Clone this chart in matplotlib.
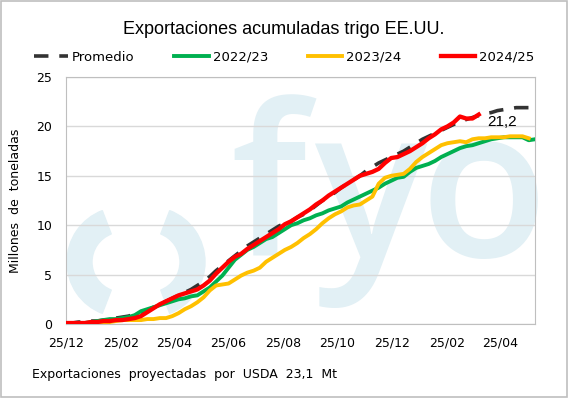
import matplotlib.pyplot as plt
from matplotlib.patches import Wedge
import numpy as np

# semanas desde el 25/12 (dias = 7 * semana)
promedio = [0.1, 0.1, 0.2, 0.2, 0.3, 0.3, 0.4, 0.5, 0.6, 0.7, 0.8, 1.0, 1.2, 1.4, 1.7, 2.0,
            2.3, 2.6, 2.9, 3.2, 3.5, 3.9, 4.3, 4.8, 5.4, 5.9, 6.4, 6.9, 7.4, 7.9, 8.3, 8.7,
            9.1, 9.5, 9.9, 10.2, 10.4, 10.8, 11.1, 11.5, 12.0, 12.5, 12.9, 13.3, 13.8, 14.2,
            14.6, 15.0, 15.5, 15.9, 16.3, 16.6, 16.9, 17.2, 17.5, 17.9, 18.3, 18.7, 19.0,
            19.3, 19.6, 19.9, 20.2, 20.5, 20.7, 20.9, 21.1, 21.3, 21.4, 21.6, 21.7, 21.8,
            21.9, 21.9, 21.9, 21.8]
c2022 = [0.1, 0.1, 0.1, 0.1, 0.2, 0.3, 0.4, 0.5, 0.5, 0.6, 0.7, 0.9, 1.3, 1.5, 1.7, 1.9,
         2.1, 2.3, 2.5, 2.6, 2.8, 2.9, 3.3, 3.7, 4.3, 4.9, 5.7, 6.5, 7.0, 7.5, 7.8, 8.2,
         8.6, 8.8, 9.2, 9.6, 10.0, 10.2, 10.5, 10.7, 11.0, 11.2, 11.5, 11.7, 11.9, 12.3,
         12.6, 12.9, 13.2, 13.5, 13.8, 14.2, 14.5, 14.8, 14.9, 15.4, 15.8, 16.0, 16.2,
         16.5, 16.9, 17.2, 17.5, 17.8, 18.0, 18.1, 18.3, 18.5, 18.7, 18.8, 18.9, 18.9,
         18.9, 18.9, 18.6, 18.7]
c2023 = [0.0, 0.0, 0.0, 0.1, 0.1, 0.1, 0.2, 0.2, 0.3, 0.4, 0.4, 0.4, 0.4, 0.5, 0.5, 0.6,
         0.6, 0.8, 1.1, 1.5, 1.8, 2.2, 2.7, 3.4, 3.9, 4.0, 4.1, 4.5, 4.9, 5.2, 5.4, 5.7,
         6.3, 6.7, 7.1, 7.5, 7.8, 8.2, 8.7, 9.1, 9.6, 10.2, 10.7, 11.1, 11.4, 11.8, 12.0,
         12.1, 12.5, 12.9, 14.2, 14.8, 15.0, 15.1, 15.2, 15.7, 16.4, 16.9, 17.3, 17.7,
         18.1, 18.3, 18.4, 18.5, 18.4, 18.7, 18.8, 18.8, 18.9, 18.9, 18.9, 19.0, 19.0,
         19.0, 18.8]
c2024 = [0.1, 0.1, 0.1, 0.1, 0.2, 0.2, 0.3, 0.3, 0.4, 0.4, 0.5, 0.6, 0.8, 1.2, 1.6, 2.0,
         2.3, 2.6, 2.9, 3.1, 3.3, 3.5, 3.9, 4.4, 5.1, 5.7, 6.3, 6.8, 7.1, 7.6, 8.0, 8.4,
         8.8, 9.2, 9.6, 10.1, 10.4, 10.8, 11.2, 11.6, 12.1, 12.5, 13.0, 13.4, 13.8, 14.2,
         14.6, 15.0, 15.2, 15.4, 15.7, 16.3, 16.8, 16.9, 17.2, 17.5, 17.9, 18.3, 18.8,
         19.2, 19.7, 20.0, 20.4, 21.0, 20.8, 20.8, 21.2]

tick_dias = [0, 62, 121, 182, 243, 304, 365, 427, 486]
tick_labels = ['25/12', '25/02', '25/04', '25/06', '25/08', '25/10', '25/12', '25/02', '25/04']

fig = plt.figure(figsize=(5.68, 3.98), dpi=100)
ax = fig.add_axes([0.1162, 0.1859, 0.8257, 0.6206])

# marca de agua (en pulgadas de la figura), recortada al area del grafico
wm = '#e2f0f5'
inch = fig.dpi_scale_trans
for c, t1, t2 in [((1.22, 1.36), 111, 249), ((1.50, 1.36), -69, 69)]:
    w = Wedge(c, 0.55, t1, t2, width=0.25, transform=inch, color=wm, zorder=0)
    ax.add_artist(w)
    w.set_clip_path(ax.patch)
for letra, xc in [('f', 2.68), ('y', 3.70), ('o', 4.84)]:
    t = ax.text(xc, 1.41, letra, transform=inch, fontsize=151, color=wm, ha='center',
                va='baseline', family='Open Sans', weight=600, zorder=0)
    t.set_clip_path(ax.patch)

def dias(v):
    return np.arange(len(v)) * 7

ax.plot(dias(c2022), c2022, color='#00b050', lw=2.8, zorder=3, label='2022/23')
ax.plot(dias(c2023), c2023, color='#ffc000', lw=2.8, zorder=3, label='2023/24')
ax.plot(dias(promedio), promedio, color='#333333', lw=2.6, ls=(0, (4, 3)), zorder=2, label='Promedio')
ax.plot(dias(c2024), c2024, color='#ff0000', lw=3.1, zorder=4, label='2024/25')

ax.text(472, 20.45, '21,2', fontsize=11, va='center', ha='left', zorder=5,
        family='Liberation Sans')

ax.set_xlim(0, 525)
ax.set_ylim(0, 25)
ax.set_yticks([0, 5, 10, 15, 20, 25])
ax.set_xticks(tick_dias)
ax.set_xticklabels(tick_labels)
ax.tick_params(length=0, labelsize=9)
ax.tick_params(axis='x', pad=9)
ax.tick_params(axis='y', pad=10)
ax.grid(axis='y', color='#d9d9d9', lw=1)
ax.set_axisbelow(True)
for s in ax.spines.values():
    s.set_color('#bfbfbf')
ax.set_ylabel('Millones  de  toneladas', fontsize=9, labelpad=10)

h, l = ax.get_legend_handles_labels()
orden = [2, 0, 1, 3]
fig.legend([h[i] for i in orden], [l[i] for i in orden], loc='center', ncol=4,
           bbox_to_anchor=(0.5, 0.856), frameon=False, fontsize=9.5, handlelength=2.6,
           columnspacing=3.0, handletextpad=0.3)

fig.text(0.5, 0.925, 'Exportaciones acumuladas trigo EE.UU.', ha='center', va='center',
         fontsize=13, family='Liberation Sans')
fig.text(0.056, 0.06, 'Exportaciones  proyectadas  por  USDA  23,1  Mt', fontsize=9, va='center')

fig.patches.append(plt.Rectangle((0.002, 0.002), 0.996, 0.996, transform=fig.transFigure,
                                 fill=False, edgecolor='#bfbfbf', lw=1.2))
fig.savefig('out.png', dpi=100)
